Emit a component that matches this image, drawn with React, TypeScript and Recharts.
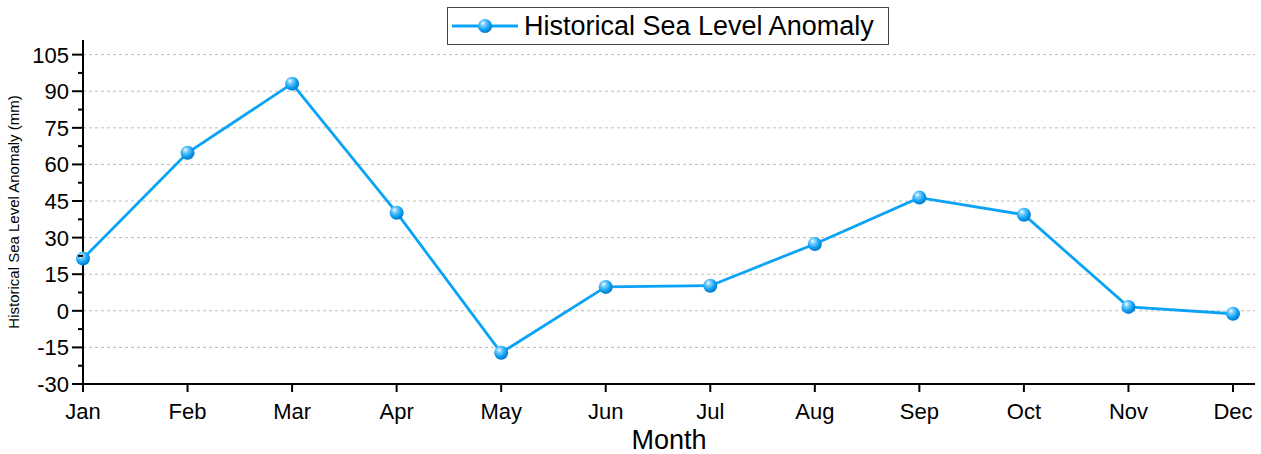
import React from "react";
import { LineChart, Line, XAxis, YAxis, CartesianGrid, Label } from "recharts";

const months = ["Jan", "Feb", "Mar", "Apr", "May", "Jun", "Jul", "Aug", "Sep", "Oct", "Nov", "Dec"];
const anomaly = [21.4, 64.8, 93.1, 40.2, -17.2, 9.8, 10.3, 27.4, 46.4, 39.4, 1.6, -1.2];
const majorTicks = [-30, -15, 0, 15, 30, 45, 60, 75, 90, 105];
const minorTicks = [-22.5, -7.5, 7.5, 22.5, 37.5, 52.5, 67.5, 82.5, 97.5];
const gridValues = [-15, 0, 15, 30, 45, 60, 75, 90, 105];

const seriesName = "Historical Sea Level Anomaly";
const blue = "#0aa3f5";
const font = "'Liberation Sans', Arial, sans-serif";

const data = months.map((m, i) => ({ month: m, value: anomaly[i] }));
const yTicks = [...majorTicks, ...minorTicks].sort((a, b) => a - b);

function YTick(props: any) {
  const { x, y, payload } = props;
  const major = majorTicks.includes(payload.value);
  return (
    <g>
      <line x1={major ? x + 3 : x + 9} x2={x + 14} y1={y} y2={y} stroke="#000" strokeWidth={2} />
      {major && (
        <text x={x} y={y} dy={8} textAnchor="end" fontSize={22} fontFamily={font} fill="#000">
          {payload.value}
        </text>
      )}
    </g>
  );
}

function SphereDot(props: any) {
  const { cx, cy, index } = props;
  if (cx == null || cy == null) return null;
  return <circle key={index} cx={cx} cy={cy} r={7} fill="url(#sphere)" />;
}

function LegendBox() {
  return (
    <div
      style={{
        position: "absolute",
        left: 447,
        top: 7,
        width: 442,
        boxSizing: "border-box",
        display: "flex",
        alignItems: "center",
        border: "1px solid #444",
        background: "#fff",
        height: 38,
        padding: "0 2px 0 4px",
        fontFamily: font,
        fontSize: 27,
        color: "#000",
        whiteSpace: "nowrap",
      }}
    >
      <svg width={68} height={20} style={{ marginRight: 4, flex: "none" }}>
        <line x1={0} x2={66} y1={10} y2={10} stroke={blue} strokeWidth={2.8} />
        <circle cx={33} cy={10} r={7} fill="url(#sphere)" />
      </svg>
      <span>{seriesName}</span>
    </div>
  );
}

export default function App() {
  return (
    <div style={{ position: "absolute", left: 0, top: 0, width: 1261, height: 454, background: "#fff" }}>
      <LineChart width={1261} height={454} data={data} margin={{ top: 40, right: 6, bottom: 0, left: 0 }}>
        <defs>
          <radialGradient id="sphere" cx="40%" cy="35%" r="65%" fx="35%" fy="30%">
            <stop offset="0%" stopColor="#ffffff" />
            <stop offset="25%" stopColor="#7fd0ff" />
            <stop offset="70%" stopColor="#0a9ef2" />
            <stop offset="100%" stopColor="#0678c8" />
          </radialGradient>
        </defs>
        <CartesianGrid
          vertical={false}
          horizontalValues={gridValues}
          stroke="#bdbdbd"
          strokeDasharray="3 3"
        />
        <XAxis
          dataKey="month"
          padding={{ left: 0, right: 22 }}
          height={70}
          interval={0}
          tickSize={8}
          tickMargin={11}
          axisLine={{ stroke: "#000", strokeWidth: 2 }}
          tickLine={{ stroke: "#000", strokeWidth: 2 }}
          tick={{ fontSize: 22, fontFamily: font, fill: "#000" }}
        >
          <Label value="Month" position="insideBottom" offset={5} style={{ fontSize: 27, fontFamily: font, fill: "#000" }} />
        </XAxis>
        <YAxis
          width={83}
          domain={[-30, 111]}
          ticks={yTicks}
          interval={0}
          allowDecimals
          tickSize={11}
          tickMargin={3}
          tickLine={false}
          axisLine={{ stroke: "#000", strokeWidth: 2 }}
          tick={<YTick />}
        >
          <Label
            value="Historical Sea Level Anomaly (mm)"
            angle={-90}
            position="insideLeft"
            offset={0}
            dx={14}
            style={{ fontSize: 15, fontFamily: font, fill: "#000", textAnchor: "middle" }}
          />
        </YAxis>
        <Line
          type="linear"
          dataKey="value"
          name={seriesName}
          stroke={blue}
          strokeWidth={2.8}
          dot={<SphereDot />}
          activeDot={false}
          isAnimationActive={false}
        />
      </LineChart>
      <LegendBox />
    </div>
  );
}
